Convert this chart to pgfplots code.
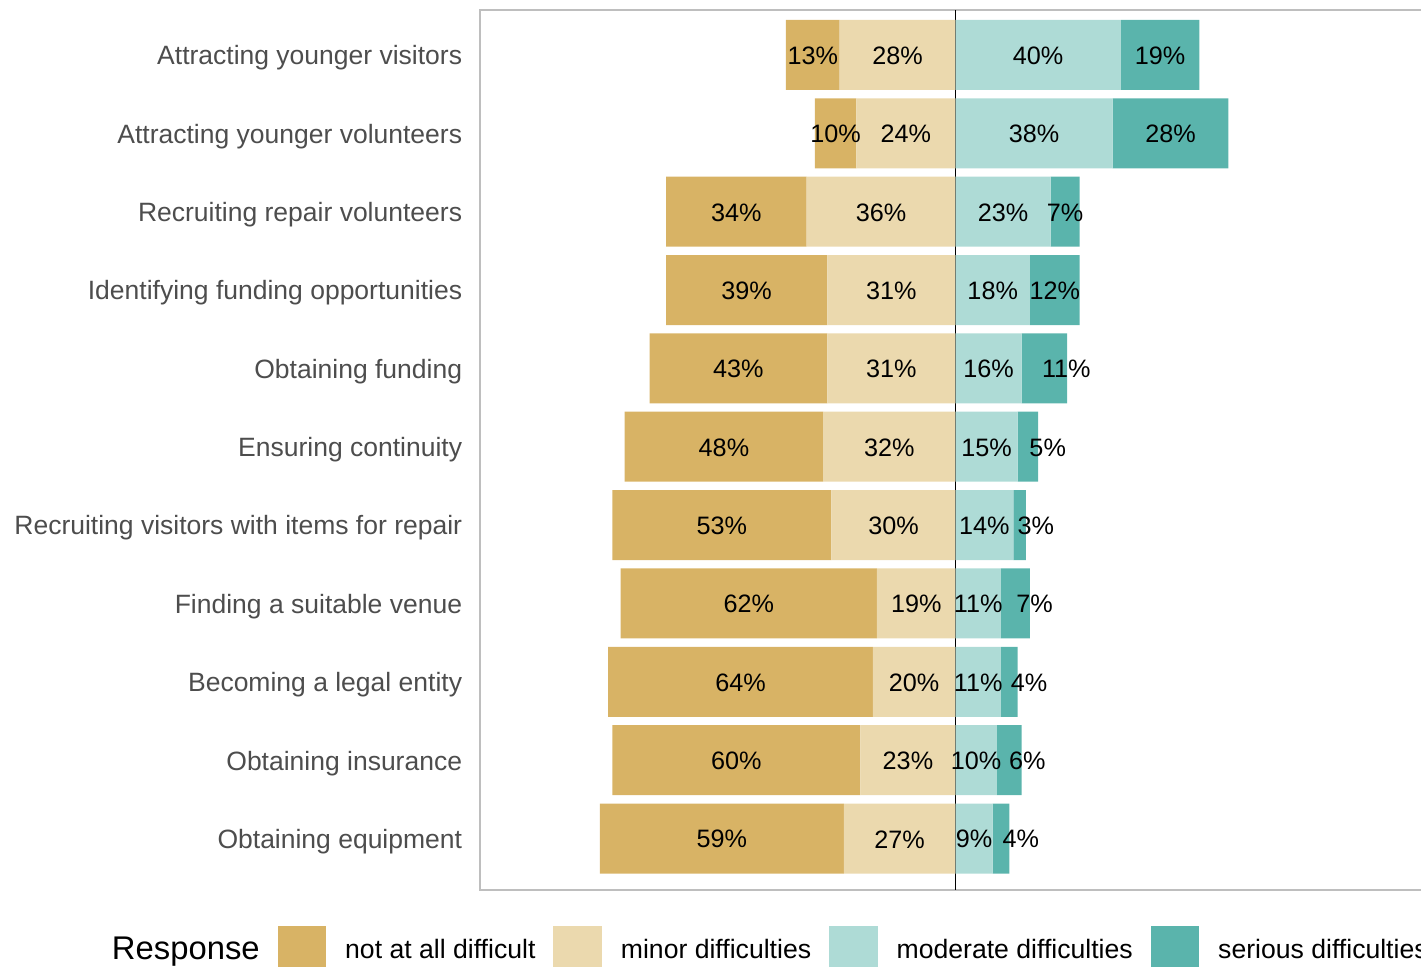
\documentclass[border=0pt]{standalone}
\usepackage{pgfplots}
\usepackage{pgfplotstable}
\pgfplotsset{compat=1.18}
\usepackage{fontspec}
\setmainfont{Liberation Sans}
\definecolor{cNot}{HTML}{D8B365}
\definecolor{cMinor}{HTML}{EBD9AE}
\definecolor{cMod}{HTML}{AEDBD6}
\definecolor{cSer}{HTML}{5AB4AC}
\definecolor{frameGray}{HTML}{BEBEBE}
\definecolor{tickGray}{HTML}{4D4D4D}

% nud = horizontal nudge (in %) of the "serious" label
\pgfplotstableread{
y  notat minor moderate serious nud
11 13 28 40 19 0
10 10 24 38 28 0
9  34 36 23 7  0
8  39 31 18 12 0
7  43 31 16 11 5.3
6  48 32 15 5  4.8
5  53 30 14 3  3.9
4  62 19 11 7  4.6
3  64 20 11 4  4.8
2  60 23 10 6  4.4
1  59 27 9  4  4.8
}\data

\pgfplotsset{
  common/.style={
    width=475.5pt, height=440pt, scale only axis,
    xmin=-115, xmax=115, ymin=0.343, ymax=11.574,
  },
  lbl/.style={
    only marks, mark=*, mark size=0pt, mark options={draw=none,fill=none},
    nodes near coords={\pgfplotspointmeta\%},
    point meta=explicit symbolic,
    every node near coord/.style={anchor=center, inner sep=0pt, yshift=-0.4pt, font=\fontsize{12.6}{15}\selectfont, text=black},
  },
}

\begin{document}
\begin{tikzpicture}
% axis 0: frame, labels, legend, centre line
\begin{axis}[common,
  axis line style={draw=frameGray, line width=1pt},
  xtick=\empty,
  ytick={1,2,3,4,5,6,7,8,9,10,11},
  yticklabels={Obtaining equipment, Obtaining insurance, Becoming a legal entity, Finding a suitable venue, Recruiting visitors with items for repair, Ensuring continuity, Obtaining funding, Identifying funding opportunities, Recruiting repair volunteers, Attracting younger volunteers, Attracting younger visitors},
  major tick length=0pt,
  yticklabel style={font=\fontsize{13.25}{16}\selectfont, text=tickGray, inner sep=0pt, xshift=-8.75pt, yshift=-1.5pt},
  legend columns=5,
  legend cell align=left,
  legend style={at={(axis description cs:0,0)}, anchor=north west, xshift=-193.5pt, yshift=-18pt,
    draw=none, fill=none, inner sep=0pt, outer sep=0pt,
    nodes={inner sep=0pt, font=\fontsize{13.3}{16}\selectfont, text=black},
    /tikz/every odd column/.append style={column sep=9.5pt},
    /tikz/every even column/.append style={column sep=9pt}},
]
\addplot[black, line width=0.75pt, forget plot] coordinates {(0,0.343) (0,11.574)};
\addlegendimage{empty legend}
\addlegendentry{\fontsize{16.4}{20}\selectfont Response}
\addlegendimage{legend image code/.code={\fill[cNot] (0pt,-11.9pt) rectangle (23.85pt,11.9pt);}}
\addlegendentry{not at all difficult}
\addlegendimage{legend image code/.code={\fill[cMinor] (0pt,-11.9pt) rectangle (23.85pt,11.9pt);}}
\addlegendentry{minor difficulties}
\addlegendimage{legend image code/.code={\fill[cMod] (0pt,-11.9pt) rectangle (23.85pt,11.9pt);}}
\addlegendentry{moderate difficulties}
\addlegendimage{legend image code/.code={\fill[cSer] (0pt,-11.9pt) rectangle (23.85pt,11.9pt);}}
\addlegendentry{serious difficulties}
\end{axis}

% axis 1: left stacked bars
\begin{axis}[common, hide axis, xbar stacked, bar width=35pt]
\addplot[fill=cMinor, draw=none] table[x expr=-\thisrow{minor}, y=y]{\data};
\addplot[fill=cNot, draw=none] table[x expr=-\thisrow{notat}, y=y]{\data};
\end{axis}

% axis 2: right stacked bars
\begin{axis}[common, hide axis, xbar stacked, bar width=35pt]
\addplot[fill=cMod, draw=none] table[x=moderate, y=y]{\data};
\addplot[fill=cSer, draw=none] table[x=serious, y=y]{\data};
\end{axis}

% axis 3: labels
\begin{axis}[common, hide axis]
\addplot[lbl] table[x expr=-\thisrow{minor}/2, y=y, meta=minor]{\data};
\addplot[lbl] table[x expr=-\thisrow{minor}-\thisrow{notat}/2, y=y, meta=notat]{\data};
\addplot[lbl] table[x expr=\thisrow{moderate}/2, y=y, meta=moderate]{\data};
\addplot[lbl] table[x expr=\thisrow{moderate}+\thisrow{serious}/2+\thisrow{nud}, y=y, meta=serious]{\data};
\end{axis}

\pgfresetboundingbox
\path[use as bounding box] (-240pt,-38.5pt) rectangle (470.5pt,445pt);
\end{tikzpicture}
\end{document}
